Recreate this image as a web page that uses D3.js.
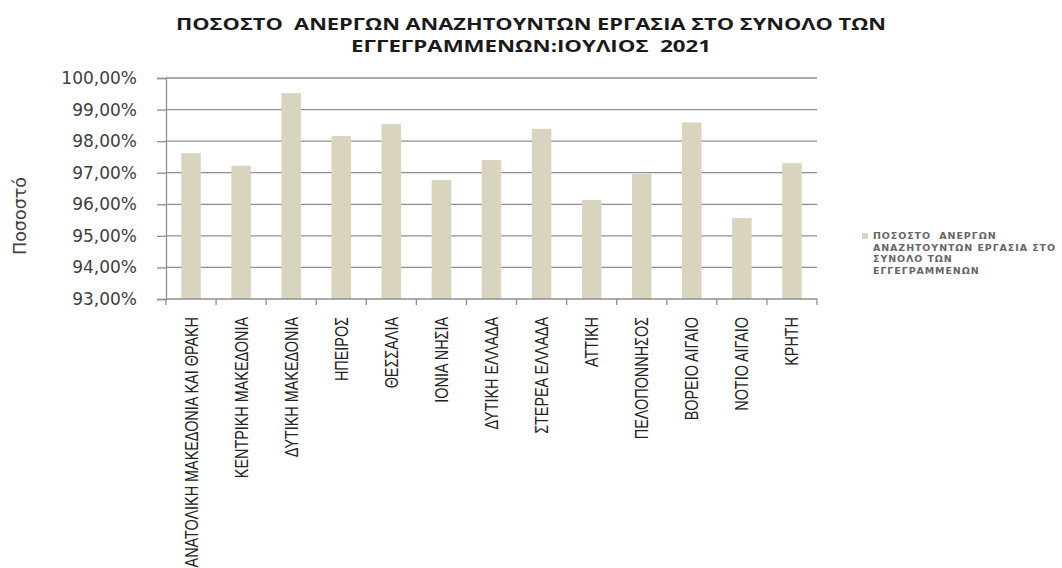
<!DOCTYPE html>
<html><head><meta charset="utf-8">
<script src="https://cdn.jsdelivr.net/npm/d3@7"></script>
<style>body{margin:0;background:#fff}svg{display:block}text{white-space:pre}</style>
</head><body>
<svg id="c" width="1062" height="568"></svg>
<script>
const categories = ["ΑΝΑΤΟΛΙΚΗ ΜΑΚΕΔΟΝΙΑ ΚΑΙ ΘΡΑΚΗ","ΚΕΝΤΡΙΚΗ ΜΑΚΕΔΟΝΙΑ","ΔΥΤΙΚΗ ΜΑΚΕΔΟΝΙΑ","ΗΠΕΙΡΟΣ","ΘΕΣΣΑΛΙΑ","ΙΟΝΙΑ ΝΗΣΙΑ","ΔΥΤΙΚΗ ΕΛΛΑΔΑ","ΣΤΕΡΕΑ ΕΛΛΑΔΑ","ΑΤΤΙΚΗ","ΠΕΛΟΠΟΝΝΗΣΟΣ","ΒΟΡΕΙΟ ΑΙΓΑΙΟ","ΝΟΤΙΟ ΑΙΓΑΙΟ","ΚΡΗΤΗ"];
const values = [97.62, 97.22, 99.52, 98.16, 98.54, 96.77, 97.40, 98.39, 96.14, 96.96, 98.59, 95.56, 97.30];
const yTicks = [93, 94, 95, 96, 97, 98, 99, 100];
const titleLines = ["ΠΟΣΟΣΤΟ  ΑΝΕΡΓΩΝ ΑΝΑΖΗΤΟΥΝΤΩΝ ΕΡΓΑΣΙΑ ΣΤΟ ΣΥΝΟΛΟ ΤΩΝ", "ΕΓΓΕΓΡΑΜΜΕΝΩΝ:ΙΟΥΛΙΟΣ  2021"];
const legendLines = ["ΠΟΣΟΣΤΟ  ΑΝΕΡΓΩΝ", "ΑΝΑΖΗΤΟΥΝΤΩΝ ΕΡΓΑΣΙΑ ΣΤΟ", "ΣΥΝΟΛΟ ΤΩΝ", "ΕΓΓΕΓΡΑΜΜΕΝΩΝ"];
const yTitle = "Ποσοστό";

const svg = d3.select("#c");
const L = 166, R = 817, T = 78, B = 299;
const barColor = "#d9d4bd";
const gridColor = "#8f8f8f";

const x = d3.scaleBand().domain(categories).range([L, R]).paddingInner(0.61).paddingOuter(0.305);
const xb = d3.scaleBand().domain(categories).range([L, R]);
const y = d3.scaleLinear().domain([93, 100]).range([B, T]);

// gridlines
svg.append("g").selectAll("line").data(yTicks.filter(d => d > 93)).join("line")
  .attr("x1", L).attr("x2", R).attr("y1", d => y(d)).attr("y2", d => y(d))
  .attr("stroke", gridColor).attr("stroke-width", 1.3);

// bars
svg.append("g").selectAll("rect").data(values).join("rect")
  .attr("x", (d, i) => x(categories[i])).attr("width", x.bandwidth())
  .attr("y", d => y(d)).attr("height", d => y(93) - y(d))
  .attr("fill", barColor);

// y axis
const yAxis = d3.axisLeft(y).tickValues(yTicks).tickSize(9).tickPadding(20)
  .tickFormat(d => d3.format(".2f")(d).replace(".", ",") + "%");
const gy = svg.append("g").attr("transform", `translate(${L},0)`).call(yAxis);
gy.select(".domain").attr("stroke", gridColor).attr("stroke-width", 1.3);
gy.selectAll(".tick line").attr("stroke", gridColor).attr("stroke-width", 1.3);
gy.selectAll(".tick text").attr("font-family", "DejaVu Sans").attr("font-size", 17).attr("fill", "#404040");

// x axis
const boundaries = categories.map(c => xb(c)).concat([R]);
svg.append("line").attr("x1", L).attr("x2", R).attr("y1", B).attr("y2", B).attr("stroke", gridColor).attr("stroke-width", 1.3);
svg.append("g").selectAll("line").data(boundaries).join("line")
  .attr("x1", d => d).attr("x2", d => d).attr("y1", B).attr("y2", B + 6)
  .attr("stroke", gridColor).attr("stroke-width", 1.3);

svg.append("g").selectAll("text").data(categories).join("text")
  .attr("transform", d => `translate(${xb(d) + xb.bandwidth() / 2},317) rotate(-90) scale(0.8,1)`)
  .attr("text-anchor", "end").attr("dy", "0.36em")
  .attr("font-family", "Liberation Sans").attr("font-size", 18).attr("fill", "#222")
  .text(d => d);

// title
svg.append("g").selectAll("text").data(titleLines).join("text")
  .attr("x", 531).attr("y", (d, i) => 30 + i * 22)
  .attr("text-anchor", "middle").attr("font-family", "Open Sans").attr("font-weight", "bold")
  .attr("font-size", 16).attr("fill", "#1a1a1a")
  .attr("textLength", (d, i) => i === 0 ? 710 : 360).attr("lengthAdjust", "spacingAndGlyphs")
  .text(d => d);

// y title
svg.append("text").attr("transform", "translate(20,216) rotate(-90)")
  .attr("text-anchor", "middle").attr("dy", "0.35em")
  .attr("font-family", "DejaVu Sans").attr("font-size", 17.5).attr("fill", "#404040")
  .text(yTitle);

// legend
svg.append("rect").attr("x", 862).attr("y", 233).attr("width", 6).attr("height", 6).attr("fill", barColor);
svg.append("g").selectAll("text").data(legendLines).join("text")
  .attr("x", 873).attr("y", (d, i) => 236 + i * 11.5).attr("dy", "0.35em")
  .attr("font-family", "DejaVu Sans").attr("font-size", 9.5).attr("font-weight", "bold").attr("letter-spacing", 0.9)
  .attr("fill", "#666").text(d => d);
</script>
</body></html>
